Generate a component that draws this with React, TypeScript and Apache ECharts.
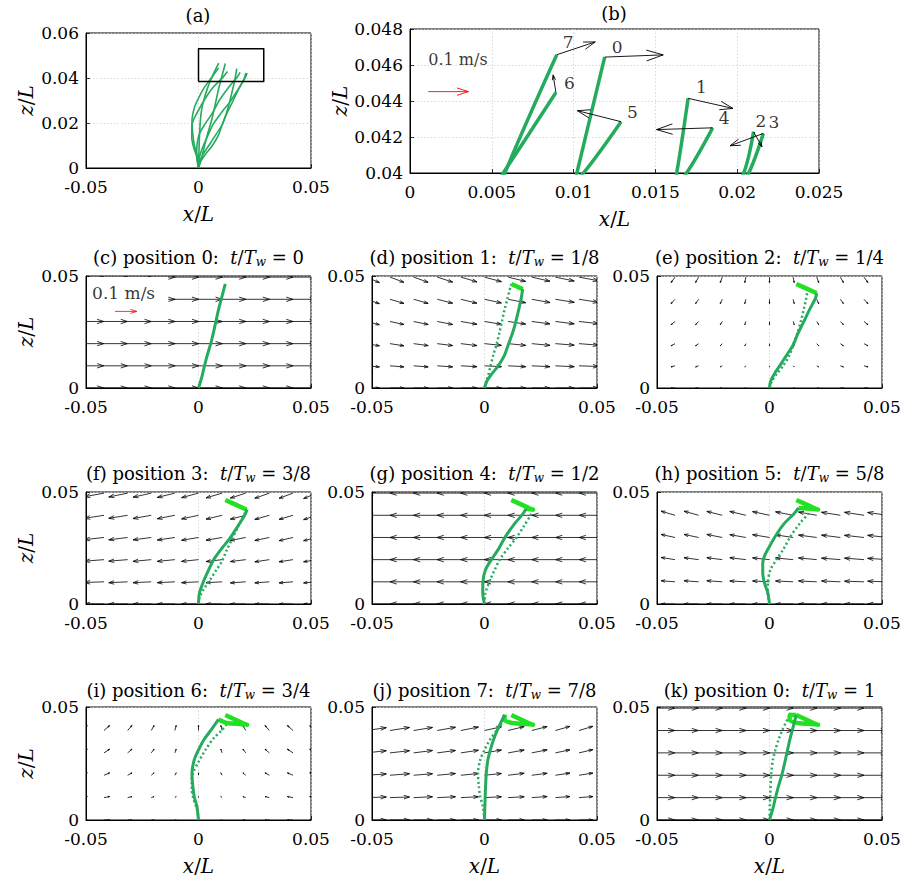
import React, { useEffect, useRef } from "react";
import * as echarts from "echarts";

const FONT = "'DejaVu Serif', 'Liberation Serif', serif";
const GREEN = "#25ab5d";
const LIME = "#22e022";

// ---------- quiver grid (x/L, z/L) ----------
const FIELD_X = [-0.0525, -0.042, -0.0315, -0.021, -0.0105, 0, 0.0105, 0.021, 0.0315, 0.042, 0.0525];
const FIELD_Z = [0, 0.0099, 0.0198, 0.0297, 0.0396, 0.0495];

// ---------- blade shapes for positions 0..7 : [x/L, z/L] ----------
const BLADE_0 = [[0, 0], [0.0015, 0.005], [0.0027, 0.01], [0.004, 0.015], [0.0055, 0.02], [0.0067, 0.025], [0.0078, 0.03], [0.0089, 0.035], [0.0102, 0.04], [0.0119, 0.04644]];
const BLADE_1 = [[0, 0], [0.001, 0.003], [0.003, 0.006], [0.006, 0.0098], [0.0088, 0.0145], [0.0108, 0.02], [0.0126, 0.025], [0.014, 0.03], [0.0152, 0.035], [0.0163, 0.04], [0.017, 0.04415]];
const BLADE_2 = [[0, 0], [0.0005, 0.003], [0.0022, 0.0064], [0.0052, 0.0109], [0.008, 0.0153], [0.0104, 0.019], [0.0125, 0.024], [0.0148, 0.0287], [0.0178, 0.035], [0.0204, 0.04], [0.021, 0.04229]];
const BLADE_3 = [[0, 0], [0.0004, 0.0048], [0.0022, 0.01], [0.0045, 0.0152], [0.0067, 0.0197], [0.0105, 0.025], [0.014, 0.0294], [0.0174, 0.0346], [0.0207, 0.04], [0.0216, 0.0422]];
const BLADE_4 = [[0, 0], [-0.0008, 0.005], [-0.0007, 0.01], [0.0004, 0.0152], [0.003, 0.0197], [0.0062, 0.0245], [0.0093, 0.0301], [0.0135, 0.036], [0.0169, 0.04], [0.0185, 0.04251]];
const BLADE_5 = [[0, 0], [-0.0007, 0.0048], [-0.0022, 0.0093], [-0.003, 0.0137], [-0.003, 0.0182], [-0.0022, 0.0215], [0, 0.0257], [0.003, 0.0309], [0.0066, 0.036], [0.0106, 0.04], [0.0129, 0.04285]];
const BLADE_6 = [[0, 0], [-0.0007, 0.0059], [-0.0019, 0.0104], [-0.0025, 0.0148], [-0.0029, 0.0207], [-0.0019, 0.0266], [0, 0.031], [0.0024, 0.0355], [0.0057, 0.04], [0.00892, 0.04447]];
const BLADE_7 = [[0, 0], [0.0003, 0.0104], [0.0008, 0.0207], [0.0015, 0.0266], [0.0026, 0.031], [0.004, 0.0355], [0.0058, 0.04], [0.00897, 0.04657]];
const BLADES = [BLADE_0, BLADE_1, BLADE_2, BLADE_3, BLADE_4, BLADE_5, BLADE_6, BLADE_7];

// ---------- tip positions and tip velocities (cm/s) ----------
const TIP_LABELS = ["0", "1", "2", "3", "4", "5", "6", "7"];
const TIP_X = [0.0119, 0.017, 0.021, 0.0216, 0.0185, 0.0129, 0.00892, 0.00897];
const TIP_Z = [0.04644, 0.04415, 0.04229, 0.0422, 0.04251, 0.04285, 0.04447, 0.04657];
const TIP_U = [14.6, 11.2, 2.1, -8.3, -14.0, -10.9, -0.7, 9.6];
const TIP_W = [0.5, -2.3, -3.4, -2.8, -0.4, 2.5, 4.0, 2.9];

// zoom window drawn in (a)
const BOX_X = [0, 0.029];
const BOX_Z = [0.0385, 0.053];

// ---------- velocity fields (cm/s), one array per row, rows from z = 0 upward ----------
const ZERO = [0, 0, 0, 0, 0, 0, 0, 0, 0, 0, 0];
const U_C = [10.8, 10.8, 10.9, 11, 11, 11, 11, 11, 10.9, 10.8, 10.8];
const U_D = [6.0, 6.4, 6.7, 7.1, 7.4, 7.8, 8.1, 8.4, 8.7, 9.0, 9.2];
const W_D1 = [-0.5, -0.5, -0.5, -0.5, -0.4, -0.4, -0.4, -0.4, -0.4, -0.3, -0.3];
const W_D2 = [-1.0, -1.0, -0.9, -0.9, -0.9, -0.8, -0.8, -0.8, -0.7, -0.7, -0.6];
const W_D3 = [-1.5, -1.4, -1.4, -1.4, -1.3, -1.3, -1.2, -1.1, -1.1, -1.0, -1.0];
const W_D4 = [-2.0, -1.9, -1.9, -1.8, -1.8, -1.7, -1.6, -1.5, -1.4, -1.4, -1.3];
const W_D5 = [-2.5, -2.4, -2.4, -2.3, -2.2, -2.1, -2.0, -1.9, -1.8, -1.7, -1.6];
const U_E = [-2.3, -1.8, -1.4, -0.9, -0.5, 0, 0.5, 0.9, 1.4, 1.8, 2.3];
const W_E1 = [-0.5, -0.5, -0.5, -0.5, -0.5, -0.5, -0.5, -0.5, -0.5, -0.5, -0.5];
const W_E2 = [-1.0, -1.0, -1.0, -1.0, -1.0, -1.0, -1.0, -1.0, -1.0, -1.0, -1.0];
const W_E3 = [-1.5, -1.5, -1.5, -1.5, -1.5, -1.5, -1.5, -1.5, -1.5, -1.5, -1.5];
const W_E4 = [-1.9, -2.0, -2.0, -2.0, -2.0, -2.0, -2.0, -2.0, -2.0, -2.0, -1.9];
const W_E5 = [-2.4, -2.5, -2.5, -2.5, -2.5, -2.5, -2.5, -2.5, -2.5, -2.5, -2.4];
const U_F = [-9.2, -9.0, -8.7, -8.4, -8.1, -7.8, -7.4, -7.1, -6.7, -6.4, -6.0];
const W_F1 = [-0.3, -0.3, -0.4, -0.4, -0.4, -0.4, -0.4, -0.5, -0.5, -0.5, -0.5];
const W_F2 = [-0.6, -0.7, -0.7, -0.8, -0.8, -0.8, -0.9, -0.9, -1.0, -1.0, -1.0];
const W_F3 = [-1.0, -1.0, -1.1, -1.1, -1.2, -1.3, -1.3, -1.4, -1.4, -1.5, -1.5];
const W_F4 = [-1.3, -1.4, -1.4, -1.5, -1.6, -1.7, -1.8, -1.8, -1.9, -1.9, -2.0];
const W_F5 = [-1.6, -1.7, -1.8, -1.9, -2.0, -2.1, -2.2, -2.3, -2.4, -2.4, -2.5];
const U_G = [-10.8, -10.8, -10.9, -11, -11, -11, -11, -11, -10.9, -10.8, -10.8];
const U_H = [-6.0, -6.4, -6.7, -7.1, -7.4, -7.8, -8.1, -8.4, -8.7, -9.0, -9.2];
const W_H1 = [0.5, 0.5, 0.5, 0.5, 0.4, 0.4, 0.4, 0.4, 0.4, 0.3, 0.3];
const W_H2 = [1.0, 1.0, 0.9, 0.9, 0.9, 0.8, 0.8, 0.8, 0.7, 0.7, 0.6];
const W_H3 = [1.5, 1.4, 1.4, 1.4, 1.3, 1.3, 1.2, 1.1, 1.1, 1.0, 1.0];
const W_H4 = [2.0, 1.9, 1.9, 1.8, 1.8, 1.7, 1.6, 1.5, 1.4, 1.4, 1.3];
const U_I = [3.2, 2.6, 2.0, 1.3, 0.6, 0, -0.6, -1.3, -2.0, -2.6, -3.2];
const W_I1 = [0.5, 0.5, 0.5, 0.5, 0.5, 0.5, 0.5, 0.5, 0.5, 0.5, 0.5];
const W_I2 = [1.1, 1.1, 1.1, 1.1, 1.1, 1.1, 1.1, 1.1, 1.1, 1.1, 1.1];
const W_I3 = [1.7, 1.7, 1.7, 1.7, 1.7, 1.7, 1.7, 1.7, 1.7, 1.7, 1.7];
const W_I4 = [2.2, 2.3, 2.3, 2.3, 2.3, 2.3, 2.3, 2.3, 2.3, 2.3, 2.2];
const U_J = [9.2, 9.0, 8.7, 8.4, 8.1, 7.8, 7.4, 7.1, 6.7, 6.4, 6.0];
const W_J1 = [0.3, 0.3, 0.4, 0.4, 0.4, 0.4, 0.4, 0.5, 0.5, 0.5, 0.5];
const W_J2 = [0.6, 0.7, 0.7, 0.8, 0.8, 0.8, 0.9, 0.9, 1.0, 1.0, 1.0];
const W_J3 = [1.0, 1.0, 1.1, 1.1, 1.2, 1.3, 1.3, 1.4, 1.4, 1.5, 1.5];
const W_J4 = [1.3, 1.4, 1.4, 1.5, 1.6, 1.7, 1.8, 1.8, 1.9, 1.9, 2.0];

type Panel = {
  key: string; pos: number; frac: string;
  u: (number[] | null)[]; w: (number[] | null)[];
  prev: number; trail: number[];
};

const PANELS: Panel[] = [
  { key: "c", pos: 0, frac: "0", u: [U_C, U_C, U_C, U_C, U_C, U_C], w: [ZERO, ZERO, ZERO, ZERO, ZERO, ZERO], prev: -1, trail: [] },
  { key: "d", pos: 1, frac: "1/8", u: [U_D, U_D, U_D, U_D, U_D, U_D], w: [ZERO, W_D1, W_D2, W_D3, W_D4, W_D5], prev: 0, trail: [0, 1] },
  { key: "e", pos: 2, frac: "1/4", u: [U_E, U_E, U_E, U_E, U_E, U_E], w: [ZERO, W_E1, W_E2, W_E3, W_E4, W_E5], prev: 1, trail: [0, 1, 2] },
  { key: "f", pos: 3, frac: "3/8", u: [U_F, U_F, U_F, U_F, U_F, U_F], w: [ZERO, W_F1, W_F2, W_F3, W_F4, W_F5], prev: 2, trail: [0, 1, 2, 3] },
  { key: "g", pos: 4, frac: "1/2", u: [U_G, U_G, U_G, U_G, U_G, U_G], w: [ZERO, ZERO, ZERO, ZERO, ZERO, ZERO], prev: 3, trail: [0, 1, 2, 3, 4] },
  { key: "h", pos: 5, frac: "5/8", u: [U_H, U_H, U_H, U_H, U_H, null], w: [ZERO, W_H1, W_H2, W_H3, W_H4, null], prev: 4, trail: [0, 1, 2, 3, 4, 5] },
  { key: "i", pos: 6, frac: "3/4", u: [U_I, U_I, U_I, U_I, U_I, null], w: [ZERO, W_I1, W_I2, W_I3, W_I4, null], prev: 5, trail: [0, 1, 2, 3, 4, 5, 6] },
  { key: "j", pos: 7, frac: "7/8", u: [U_J, U_J, U_J, U_J, U_J, null], w: [ZERO, W_J1, W_J2, W_J3, W_J4, null], prev: 6, trail: [0, 1, 2, 3, 4, 5, 6, 7] },
  { key: "k", pos: 0, frac: "1", u: [U_C, U_C, U_C, U_C, U_C, U_C], w: [ZERO, ZERO, ZERO, ZERO, ZERO, ZERO], prev: 7, trail: [0, 1, 2, 3, 4, 5, 6, 7, 0] },
];

// ---------- layout ----------
const COL_LEFT = [86, 372, 657];
const ROW_TOP = [276, 492, 707];
const ROW_TITLE = [246, 462, 679];
const SMALL_W = 225;
const SMALL_H = 112;
const FIELD_SCALE = 0.000964; // data units per cm/s in (c)-(k)
const TIP_SCALE = 0.000245; // data units per cm/s in (b)

const fmt = (v: number) => String(parseFloat(v.toFixed(4)));

const nameStyle = {
  fontFamily: FONT, fontSize: 20, color: "#000",
  rich: { i: { fontFamily: FONT, fontSize: 20, fontStyle: "italic", color: "#000" } },
};

function makeAxis(gi: number, isX: boolean, min: number, max: number, interval: number, name: string, nameGap: number) {
  return {
    gridIndex: gi, type: "value", min, max, interval,
    axisLine: { show: true, onZero: false, lineStyle: { color: "#000", width: 1 } },
    axisTick: { show: true, inside: true, length: 4, lineStyle: { color: "#000", width: 0.8 } },
    splitLine: { show: true, lineStyle: { color: "#cfcfcf", width: 0.8, type: [1.5, 2] } },
    axisLabel: { fontFamily: FONT, fontSize: 17, color: "#000", margin: isX ? 10 : 7, formatter: fmt },
    name, nameLocation: "middle", nameGap, nameTextStyle: nameStyle,
  };
}

function quiver(gi: number, data: number[][], scale: number, color: string, z: number, lw: number) {
  return {
    type: "custom", coordinateSystem: "cartesian2d", xAxisIndex: gi, yAxisIndex: gi,
    clip: true, silent: true, z, encode: { x: 0, y: 1 }, data,
    renderItem: (params: any, api: any) => {
      const x = api.value(0), y = api.value(1), u = api.value(2), w = api.value(3);
      const p0 = api.coord([x, y]);
      const p1 = api.coord([x + u * scale, y + w * scale]);
      const dx = p1[0] - p0[0], dy = p1[1] - p0[1];
      const L = Math.hypot(dx, dy);
      if (L < 0.4) return null;
      const ang = Math.atan2(dy, dx);
      const h = 0.3 * L, a = (18 * Math.PI) / 180;
      const h1 = [p1[0] - h * Math.cos(ang - a), p1[1] - h * Math.sin(ang - a)];
      const h2 = [p1[0] - h * Math.cos(ang + a), p1[1] - h * Math.sin(ang + a)];
      const cs = params.coordSys;
      return {
        type: "group",
        clipPath: { type: "rect", shape: { x: cs.x, y: cs.y, width: cs.width, height: cs.height } },
        children: [
          { type: "line", shape: { x1: p0[0], y1: p0[1], x2: p1[0], y2: p1[1] }, style: { stroke: color, lineWidth: lw } },
          { type: "polyline", shape: { points: [h1, p1, h2] }, style: { stroke: color, lineWidth: lw, fill: null } },
        ],
      };
    },
  };
}

function line(gi: number, pts: number[][], color: string, width: number, type: any, z: number, smooth: number) {
  return {
    type: "line", xAxisIndex: gi, yAxisIndex: gi, data: pts, symbol: "none", smooth, z, silent: true,
    lineStyle: { color, width, type, cap: "butt", join: "round" },
  };
}

function texts(gi: number, items: { name: string; value: number[]; offset: number[] }[], fontSize: number, align: string, z: number) {
  return {
    type: "scatter", xAxisIndex: gi, yAxisIndex: gi, symbolSize: 1, z, silent: true,
    itemStyle: { color: "rgba(0,0,0,0)" },
    data: items.map((it) => ({ name: it.name, value: it.value, label: { offset: it.offset } })),
    label: {
      show: true, position: "inside", align, verticalAlign: "middle",
      formatter: (p: any) => p.name, fontFamily: FONT, fontSize, color: "#000",
    },
  };
}

function whiteBox(gi: number, x0: number, x1: number, z0: number, z1: number) {
  return {
    type: "custom", coordinateSystem: "cartesian2d", xAxisIndex: gi, yAxisIndex: gi, silent: true, z: 4,
    encode: { x: 0, y: 1 }, data: [[x0, z0, x1, z1]],
    renderItem: (params: any, api: any) => {
      const a = api.coord([api.value(0), api.value(3)]);
      const b = api.coord([api.value(2), api.value(1)]);
      return { type: "rect", shape: { x: a[0] + 1, y: a[1] + 1, width: b[0] - a[0] - 1, height: b[1] - a[1] - 1 }, style: { fill: "#fff" } };
    },
  };
}

function buildOption() {
  const grid: any[] = [], xAxis: any[] = [], yAxis: any[] = [], title: any[] = [], series: any[] = [];
  const titleStyle = {
    fontFamily: FONT, fontSize: 18, fontWeight: "normal", color: "#000", lineHeight: 22,
    rich: {
      i: { fontFamily: FONT, fontSize: 18, fontStyle: "italic", color: "#000", lineHeight: 22 },
      s: { fontFamily: FONT, fontSize: 12, fontStyle: "italic", color: "#000", lineHeight: 10, verticalAlign: "bottom" },
    },
  };
  const xName = "{i|x}/{i|L}";
  const zName = "{i|z}/{i|L}";

  // (a)
  grid.push({ left: 86, top: 33, width: 225, height: 135, show: true, borderColor: "#000", borderWidth: 1 });
  xAxis.push(makeAxis(0, true, -0.05, 0.05, 0.05, xName, 36));
  yAxis.push(makeAxis(0, false, 0, 0.06, 0.02, zName, 50));
  title.push({ text: "(a)", left: 198, top: 4, textAlign: "center", padding: 0, textStyle: titleStyle });
  BLADES.forEach((b) => series.push(line(0, b, GREEN, 1.6, "solid", 3, 0.3)));
  series.push(line(0, [[BOX_X[0], BOX_Z[0]], [BOX_X[1], BOX_Z[0]], [BOX_X[1], BOX_Z[1]], [BOX_X[0], BOX_Z[1]], [BOX_X[0], BOX_Z[0]]], "#000", 1.5, "solid", 4, 0));

  // (b)
  grid.push({ left: 410, top: 29, width: 409, height: 144, show: true, borderColor: "#000", borderWidth: 1 });
  xAxis.push(makeAxis(1, true, 0, 0.025, 0.005, xName, 36));
  yAxis.push(makeAxis(1, false, 0.04, 0.048, 0.002, zName, 58));
  title.push({ text: "(b)", left: 614, top: 2, textAlign: "center", padding: 0, textStyle: titleStyle });
  BLADES.forEach((b) => series.push(line(1, b, GREEN, 3.5, "solid", 3, 0.3)));
  series.push(quiver(1, TIP_X.map((x, i) => [x, TIP_Z[i], TIP_U[i], TIP_W[i]]), TIP_SCALE, "#000", 5, 0.9));
  series.push(quiver(1, [[0.00112, 0.04452, 10, 0]], TIP_SCALE, "#ff0000", 5, 0.9));
  const tipOffsets = [[7, -10], [8, -11], [2, -11], [5, -11], [6, -10], [6, -10], [8, -10], [6, -13]];
  series.push(texts(1, TIP_X.map((x, i) => ({ name: TIP_LABELS[i], value: [x, TIP_Z[i]], offset: tipOffsets[i] })), 17, "left", 6));
  series.push(texts(1, [{ name: "0.1 m/s", value: [0.00112, 0.04628], offset: [0, 0] }], 16, "left", 6));

  // (c)-(k)
  PANELS.forEach((p, idx) => {
    const gi = idx + 2;
    const r = Math.floor(idx / 3), c = idx % 3;
    const left = COL_LEFT[c];
    grid.push({ left, top: ROW_TOP[r], width: SMALL_W, height: r === 2 ? SMALL_H + 1 : SMALL_H, show: true, borderColor: "#000", borderWidth: 1 });
    xAxis.push(makeAxis(gi, true, -0.05, 0.05, 0.05, r === 2 ? xName : "", 36));
    yAxis.push(makeAxis(gi, false, 0, 0.05, 0.05, c === 0 ? zName : "", 50));
    title.push({
      text: `(${p.key}) position ${p.pos}:  {i|t}/{i|T}{s|w} = ${p.frac}`,
      left: left + SMALL_W / 2, top: ROW_TITLE[r], textAlign: "center", padding: 0, textStyle: titleStyle,
    });
    const data: number[][] = [];
    FIELD_Z.forEach((zv, ri) => {
      const ur = p.u[ri], wr = p.w[ri];
      if (!ur || !wr) return;
      FIELD_X.forEach((xv, ci) => data.push([xv, zv, ur[ci], wr[ci]]));
    });
    series.push(quiver(gi, data, FIELD_SCALE, "#000", 2, 0.8));
    if (p.prev >= 0) series.push(line(gi, BLADES[p.prev], GREEN, 2.5, [2, 2.6], 5, 0.3));
    if (p.trail.length > 1) series.push(line(gi, p.trail.map((t) => [TIP_X[t], TIP_Z[t]]), LIME, 4.5, "solid", 6, 0.35));
    series.push(line(gi, BLADES[p.pos], GREEN, 3, "solid", 7, 0.3));
    if (idx === 0) {
      series.push(whiteBox(gi, -0.05, -0.0135, 0.033, 0.05));
      series.push(quiver(gi, [[-0.0371, 0.0342, 10, 0]], FIELD_SCALE, "#ff0000", 8, 0.8));
      series.push(texts(gi, [{ name: "0.1 m/s", value: [-0.0473, 0.0424], offset: [0, 0] }], 17, "left", 8));
    }
  });

  return { animation: false, backgroundColor: "#fff", grid, xAxis, yAxis, title, series };
}

export default function App() {
  const ref = useRef<HTMLDivElement>(null);
  useEffect(() => {
    const chart = echarts.init(ref.current as HTMLDivElement, undefined, { renderer: "svg" });
    chart.setOption(buildOption() as any);
    return () => chart.dispose();
  }, []);
  return <div ref={ref} style={{ position: "fixed", left: 0, top: 0, width: 907, height: 884, background: "#fff" }} />;
}
